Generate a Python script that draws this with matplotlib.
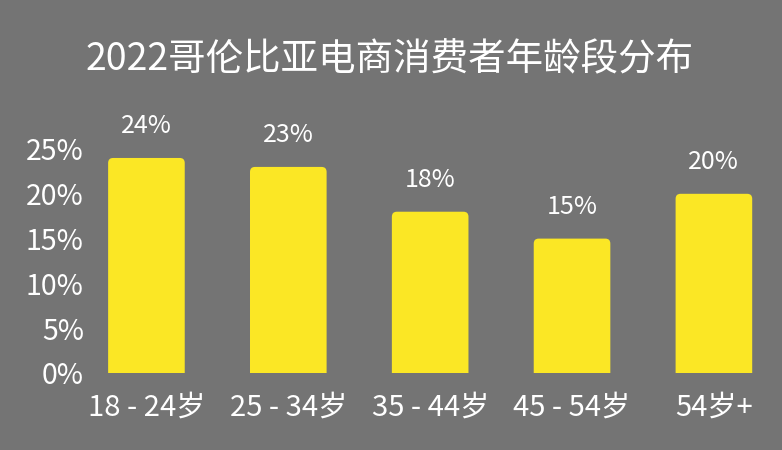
import matplotlib
matplotlib.use("Agg")
import matplotlib.pyplot as plt
from matplotlib.patches import FancyBboxPatch

plt.rcParams['font.family'] = ['Noto Sans CJK SC', 'DejaVu Sans']

# данные
age_groups = ['18 - 24岁', '25 - 34岁', '35 - 44岁', '45 - 54岁', '54岁+']
shares = [24, 23, 18, 15, 20]
y_ticks = [0, 5, 10, 15, 20, 25]
title = '2022哥伦比亚电商消费者年龄段分布'

bg = '#747474'
bar_color = '#FBE725'

W, H = 782, 450
fig = plt.figure(figsize=(W / 100, H / 100), dpi=100, facecolor=bg)
ax_left, ax_right = 75.5 / W, 1.0
ax_bottom, ax_top = 1 - 373 / H, 1 - 149 / H
ax = fig.add_axes([ax_left, ax_bottom, ax_right - ax_left, ax_top - ax_bottom])
ax.set_facecolor(bg)

x = list(range(len(age_groups)))
bars = ax.bar(x, shares, width=0.54, color=bar_color)
ax.set_xlim(-0.5, 4.48)
ax.set_ylim(0, 25)

# скругленные верхние углы
px_x = (ax_right - ax_left) * W / (4.48 + 0.5)
px_y = (ax_top - ax_bottom) * H / 25
r = 5 / px_x
aspect = px_x / px_y
for b in bars:
    bx, bw, bh = b.get_x(), b.get_width(), b.get_height()
    b.remove()
    ax.add_patch(FancyBboxPatch((bx, -5), bw, bh + 5,
                                boxstyle=f"round,pad=0,rounding_size={r}",
                                mutation_aspect=aspect, color=bar_color,
                                linewidth=0))

for i, v in enumerate(shares):
    ax.annotate(f'{v}%', (i, v), xytext=(0, 23), textcoords='offset points',
                ha='center', va='center', color='white', fontsize=18,
                annotation_clip=False)

ax.set_xticks(x)
ax.set_xticklabels(age_groups, fontsize=21, color='white')
ax.set_yticks(y_ticks)
ax.set_yticklabels([f'{t}%' for t in y_ticks], fontsize=20.5, color='white')
ax.tick_params(axis='both', length=0)
ax.tick_params(axis='y', pad=-6)
ax.tick_params(axis='x', pad=14)
for s in ax.spines.values():
    s.set_visible(False)

fig.text(0.498, 1 - 60 / H, title, ha='center', va='center',
         color='white', fontsize=27)

fig.savefig('out.png', dpi=100, facecolor=bg)
